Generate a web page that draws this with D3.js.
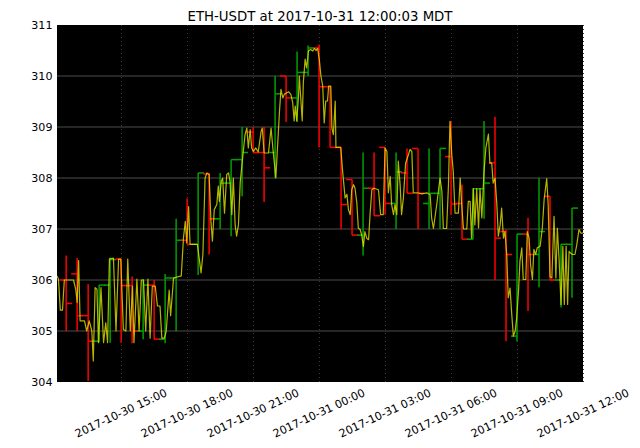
<!DOCTYPE html>
<html><head><meta charset="utf-8">
<script src="https://cdn.jsdelivr.net/npm/d3@7"></script>
<style>
html,body{margin:0;padding:0;background:#fff;}
svg{display:block;font-family:"DejaVu Sans",sans-serif;}
</style></head>
<body>
<svg id="chart" width="640" height="448"></svg>
<script>
// ---- data (minutes after 2017-10-30 12:00 local) ----
const titleText = "ETH-USDT at 2017-10-31 12:00:03 MDT";
const yTicks = [304, 305, 306, 307, 308, 309, 310, 311];
const xTickHours = [3, 6, 9, 12, 15, 18, 21, 24]; // hours after 2017-10-30 12:00
const domainMinutes = [5, 1440];

const lineMinutes = [
5,9,14,20,25,50,56,60,64,68,
80,86,93,100,104,109,114,118,125,132,
138,143,148,159,166,173,179,186,193,198,
205,211,215,223,229,235,241,247,253,259,
265,273,279,286,291,298,303,311,315,323,
344,350,355,359,364,368,388,398,403,409,
414,420,425,429,434,441,445,448,453,457,
462,468,473,477,482,486,491,495,500,505,
511,518,523,527,532,536,541,547,554,562,
565,570,582,589,595,602,606,612,616,621,
625,632,637,643,648,652,655,659,664,666,
670,674,677,682,686,691,697,703,707,712,
716,721,725,730,734,738,743,746,752,755,
759,764,766,779,785,791,796,800,805,809,
814,818,823,827,832,836,841,845,850,855,
859,864,870,882,888,895,900,905,909,914,
918,923,927,932,936,941,945,950,956,964,
968,973,977,988,1000,1014,1023,1027,1032,1041,
1050,1055,1059,1068,1073,1077,1082,1086,1091,1100,
1105,1109,1114,1123,1127,1132,1136,1141,1145,1150,
1155,1159,1164,1170,1175,1182,1186,1191,1195,1200,
1205,1209,1214,1218,1223,1227,1232,1236,1241,1245,
1250,1255,1259,1264,1268,1273,1277,1284,1288,1293,
1297,1302,1306,1311,1315,1323,1329,1334,1341,1345,
1350,1355,1361,1366,1370,1375,1380,1385,1389,1394,
1398,1402,1406,1411,1418,1423,1429,1434,1440];

const lineValues = [
306.08,306.02,305.41,305.41,306.0,306.0,305.82,305.56,306.38,305.2,
305.2,305.0,305.2,305.0,304.41,305.85,305.82,304.77,305.85,304.77,
305.16,304.77,306.41,306.43,305.0,306.41,306.41,305.03,305.0,306.41,
305.0,305.88,304.77,306.02,305.0,306.0,306.0,305.0,306.02,304.86,
305.88,305.88,305.49,305.49,304.86,304.86,305.0,305.8,305.3,306.04,
306.08,306.82,307.15,306.73,307.44,306.7,306.7,306.14,306.5,308.0,
308.1,308.07,307.15,306.76,307.38,307.48,307.84,307.54,307.93,308.0,
307.31,308.07,308.1,307.93,307.28,308.0,307.08,306.86,307.08,307.93,
308.36,308.85,308.98,308.59,308.95,308.59,308.52,308.59,308.51,308.92,
308.98,308.49,308.49,308.98,308.5,308.0,308.53,309.31,309.74,309.57,
309.64,309.67,309.69,309.64,309.48,309.12,309.41,309.12,309.61,310.0,
309.57,309.12,309.87,310.33,310.16,310.49,310.52,310.49,310.54,310.5,
310.54,310.3,310.0,309.8,309.08,309.51,309.51,309.8,309.8,308.98,
308.85,309.51,308.6,308.6,308.07,307.61,307.68,307.38,307.28,307.77,
307.87,307.8,307.51,307.02,306.99,306.89,306.66,306.95,306.82,306.79,
307.28,307.77,307.8,307.77,307.28,307.28,308.59,308.52,307.71,308.03,
307.48,307.28,307.48,307.28,308.33,307.87,307.28,307.61,308.29,308.46,
308.56,308.52,307.71,307.71,307.69,307.71,307.67,307.22,307.01,307.48,
308.0,307.74,307.01,307.01,307.87,309.11,308.46,308.13,307.31,307.31,
308.0,307.48,307.0,307.0,307.54,307.54,306.82,307.79,307.08,307.79,
307.02,307.79,307.22,308.13,308.59,308.86,308.29,308.29,307.9,308.0,
307.48,306.86,307.08,307.41,306.82,306.95,306.5,305.65,305.84,305.39,
304.9,305.0,305.25,305.78,306.37,306.63,306.01,306.01,306.95,306.82,
306.3,306.01,306.6,306.5,306.63,306.66,307.02,307.58,307.99,307.48,
306.07,306.04,307.25,306.04,307.02,306.37,305.52,306.66,305.52,306.66,
305.52,306.56,306.53,306.5,306.5,306.69,306.99,306.92,306.92];

// 30-minute OHLC bars, first at 12:30
const candleStartMinute = 30;
const candleStepMinutes = 30;
const candleOpen = [306.0,306.12,305.3,304.8,305.9,306.41,305.89,305.0,305.9,304.84,
306.04,306.78,306.7,308.08,307.2,307.9,308.36,308.9,308.5,308.5,
310.0,309.57,310.07,310.55,309.79,308.6,307.97,306.88,307.8,308.6,
307.5,308.1,308.58,307.5,307.7,308.42,307.5,306.8,307.79,308.3,
306.95,304.9,306.9,306.5,307.64,306.0,306.7];
const candleHigh = [306.48,306.43,305.92,305.9,306.44,306.41,306.07,306.02,306.0,306.12,
307.2,307.6,308.1,308.1,308.1,308.36,309.0,309.0,309.0,310.0,
310.0,310.48,310.6,310.62,309.8,308.6,307.97,308.5,308.5,308.6,
308.5,308.58,308.58,308.58,308.58,309.12,307.87,307.8,309.12,309.2,
306.99,306.9,307.22,308.0,307.64,306.7,307.41];
const candleLow = [305.0,305.0,304.02,304.78,304.77,304.77,304.76,304.84,304.84,304.76,
305.0,306.7,306.1,306.5,307.0,306.86,307.64,308.5,307.53,308.0,
309.1,309.1,310.0,308.6,308.6,307.0,306.88,306.48,307.26,307.28,
307.0,307.7,307.0,307.0,307.0,307.28,306.8,306.8,307.2,306.0,
304.8,304.8,305.39,305.86,306.0,305.46,305.65];
const candleClose = [305.54,305.3,304.8,305.9,306.4,305.89,305.0,305.9,304.84,306.04,
306.78,306.7,308.1,307.2,307.9,308.36,308.5,308.5,308.2,309.65,
309.57,310.07,310.55,309.79,308.6,307.48,306.88,307.8,307.26,307.5,
308.12,307.7,307.7,307.7,308.58,307.49,306.8,307.79,307.9,306.82,
306.5,306.9,306.5,306.95,306.0,306.7,307.41];

// ---- layout ----
const m = {left: 57, right: 583, top: 25, bottom: 382};
const base = new Date(2017, 9, 30, 12, 0, 0);
const t = mins => d3.timeMinute.offset(base, mins);

const svg = d3.select("#chart");
const x = d3.scaleTime().domain(domainMinutes.map(t)).range([m.left, m.right]);
const y = d3.scaleLinear().domain([304, 311]).range([m.bottom, m.top]);

// axes background
svg.append("rect").attr("x", m.left).attr("y", m.top)
  .attr("width", m.right - m.left).attr("height", m.bottom - m.top).attr("fill", "#000");

svg.append("defs").append("clipPath").attr("id", "clip")
  .append("rect").attr("x", m.left).attr("y", m.top)
  .attr("width", m.right - m.left).attr("height", m.bottom - m.top);

const xTicks = xTickHours.map(h => d3.timeHour.offset(base, h));

// grid
const grid = svg.append("g");
grid.selectAll("line.hg").data(yTicks.filter(v => v > 304 && v < 311)).join("line")
  .attr("x1", m.left).attr("x2", m.right)
  .attr("y1", d => y(d)).attr("y2", d => y(d))
  .attr("stroke", "#333").attr("stroke-width", 1.5);
grid.selectAll("line.vg").data(xTicks).join("line")
  .attr("x1", d => Math.round(x(d)) + 0.5).attr("x2", d => Math.round(x(d)) + 0.5)
  .attr("y1", m.top).attr("y2", m.bottom)
  .attr("stroke", "#3a3a3a").attr("stroke-width", 1).attr("stroke-dasharray", "1,3");

// OHLC bars
const candles = candleOpen.map((o, i) => ({
  time: t(candleStartMinute + i * candleStepMinutes),
  o, h: candleHigh[i], l: candleLow[i], c: candleClose[i]
}));
const tick = 6;
const cg = svg.append("g").attr("clip-path", "url(#clip)");
const colorOf = d => d.c >= d.o ? "#00a000" : "#ff0000";
const bars = cg.selectAll("g.bar").data(candles).join("g").attr("stroke", colorOf).attr("stroke-width", 1.5);
bars.append("line")
  .attr("x1", d => x(d.time)).attr("x2", d => x(d.time))
  .attr("y1", d => y(d.h)).attr("y2", d => y(d.l));
bars.append("line")
  .attr("x1", d => x(d.time) - tick).attr("x2", d => x(d.time))
  .attr("y1", d => y(d.o)).attr("y2", d => y(d.o));
bars.append("line")
  .attr("x1", d => x(d.time)).attr("x2", d => x(d.time) + tick)
  .attr("y1", d => y(d.c)).attr("y2", d => y(d.c));

// price line
const pts = lineMinutes.map((mm, i) => [t(mm), lineValues[i]]);
cg.append("path").datum(pts)
  .attr("fill", "none").attr("stroke", "#e8e800").attr("stroke-width", 1.2)
  .attr("stroke-opacity", 0.78).attr("stroke-linejoin", "round")
  .attr("d", d3.line().x(d => x(d[0])).y(d => y(d[1])));

// y axis labels
svg.append("g").selectAll("text").data(yTicks).join("text")
  .attr("x", m.left - 4.5).attr("y", d => y(d)).attr("dy", "0.36em")
  .attr("text-anchor", "end").attr("font-size", "11.1px").attr("fill", "#000")
  .text(d => d);

// x axis labels (rotated, centred on tick)
const fmt = d3.timeFormat("%Y-%m-%d %H:%M");
const angDeg = 25;
const ang = angDeg * Math.PI / 180;
const fs = 11.1;
const xl = svg.append("g").selectAll("text").data(xTicks).join("text")
  .attr("font-size", fs + "px").attr("fill", "#000")
  .attr("text-anchor", "middle").attr("dominant-baseline", "central")
  .text(d => fmt(d));
xl.each(function(d) {
  const L = this.getComputedTextLength();
  const hh = fs * 1.16;
  const Hb = L * Math.sin(ang) + hh * Math.cos(ang);
  const cx = x(d), cy = m.bottom + 4.4 + Hb / 2;
  d3.select(this).attr("x", cx).attr("y", cy)
    .attr("transform", `rotate(${-angDeg},${cx},${cy})`);
});

// title
svg.append("text").attr("x", (m.left + m.right) / 2).attr("y", 21)
  .attr("text-anchor", "middle").attr("font-size", "13.3px").attr("fill", "#000")
  .text(titleText);
</script>
</body></html>
